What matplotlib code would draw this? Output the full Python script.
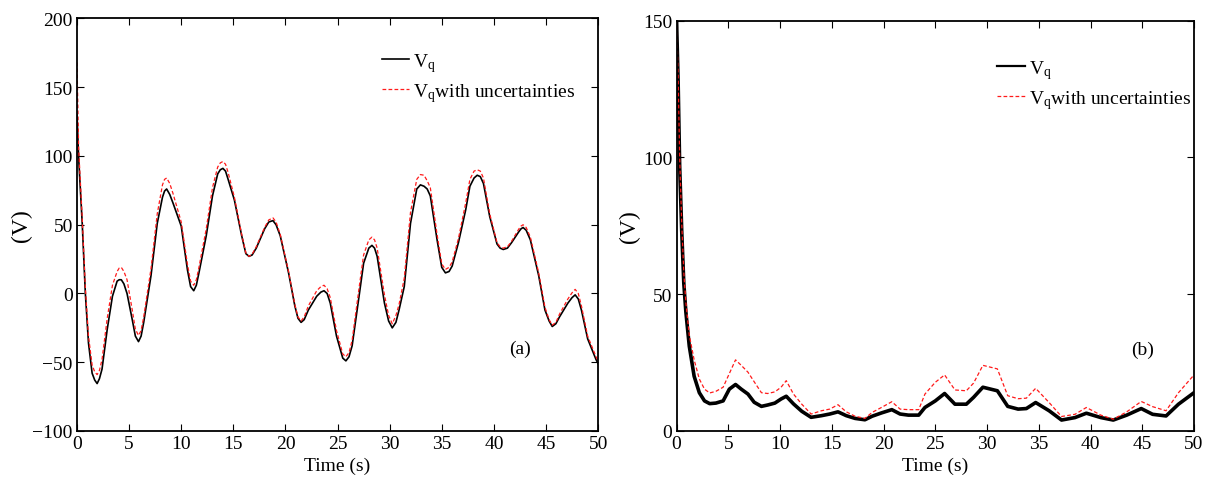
import matplotlib
matplotlib.use("Agg")
import matplotlib.pyplot as plt

# ---------------- data ----------------
# (a) Vq over time
t_a = [0, 0.16, 0.5, 0.8, 1.1, 1.45, 1.7, 1.93, 2.15, 2.4, 2.9, 3.4, 3.85,
       4.05, 4.25, 4.5, 4.8, 5.3, 5.6, 5.9, 6.15, 6.4, 7.1, 7.7, 8.2, 8.4,
       8.6, 8.9, 9.2, 10.0, 10.6, 10.9, 11.2, 11.45, 11.7, 12.4, 13.0, 13.5,
       13.75, 14.0, 14.25, 14.5, 15.1, 15.8, 16.2, 16.5, 16.8, 17.2, 18.0,
       18.4, 18.8, 19.1, 19.5, 20.3, 20.9, 21.2, 21.5, 21.8, 22.2, 23.0, 23.4,
       23.7, 24.0, 24.3, 24.9, 25.5, 25.8, 26.1, 26.4, 27.1, 27.5, 28.0, 28.3,
       28.55, 28.8, 29.5, 29.9, 30.25, 30.6, 30.9, 31.4, 32.0, 32.6, 32.95,
       33.3, 33.6, 33.9, 34.55, 35.0, 35.35, 35.7, 36.0, 36.6, 37.3, 37.7,
       38.1, 38.4, 38.7, 39.0, 39.6, 40.3, 40.6, 40.9, 41.3, 41.7, 42.4, 42.6,
       42.8, 43.1, 43.5, 44.3, 44.9, 45.3, 45.6, 45.95, 46.3, 47.1, 47.5,
       47.8, 48.1, 48.4, 49.0, 49.8, 50.0]
vq_a = [130, 98, 51, 0, -36, -58, -63, -65.5, -62, -55, -26, -2, 9,
        10, 10, 7, 0, -19, -31, -35, -31, -21, 13, 51, 70, 74.5,
        76, 72, 66, 49, 17, 5, 2, 6, 15, 42, 71, 87,
        90, 91, 89, 83, 68, 42, 29, 27, 28, 33, 47,
        52, 53, 50, 42, 15, -9, -18, -21, -19, -12, -2, 1,
        2, 0, -7, -31, -47, -49, -46, -38, 0, 22, 33, 35,
        33, 27, -7, -20, -25, -21, -12, 5, 51, 76, 79,
        78, 76, 71, 39, 19, 15, 16, 20, 37, 61, 78,
        84, 86, 85, 80, 56, 36, 33, 32, 33, 37, 45, 47,
        48, 46, 39, 13, -12, -20, -24, -22, -17, -7, -3,
        -1, -4, -12, -33, -48, -51]
vq_a_unc = [168, 105, 55, 4, -31, -52, -57, -59, -56, -48, -18, 6, 16,
            18.5, 19, 16, 10, -12, -26, -30.5, -27, -17, 18, 58, 79, 83,
            84, 80, 73, 52, 21, 9, 6, 10, 19, 47, 77, 92,
            95, 96, 94, 88, 70, 43, 29.5, 27, 28.5, 34, 48,
            53.5, 55, 52, 43, 16, -8, -17, -20, -17, -9, 2, 5,
            6, 3.5, -3, -27, -44, -46, -43, -34, 6, 28, 39, 41,
            39, 33, -1, -16, -22, -16, -8, 11, 59, 83, 86.5,
            86, 82, 77, 43, 21.5, 17.5, 19, 23, 40, 66, 83,
            89, 90, 89, 84, 58, 37, 34, 33, 34, 38, 47, 49,
            50, 48, 41, 15, -10, -19, -23, -21, -15, -4, 0.5,
            3, 0, -9, -31, -46, -49]

# (b) Vq over time
t_b = [0, 0.15, 0.3, 0.5, 0.7, 0.9, 1.23, 1.7, 2.2, 2.7, 3.2, 3.8, 4.5, 5.1,
       5.7, 6.25, 6.9, 7.5, 8.2, 8.8, 9.5, 10.1, 10.6, 11.3, 12.1, 13.0, 14.0,
       14.8, 15.6, 16.4, 17.25, 18.2, 18.9, 19.8, 20.8, 21.6, 22.4, 23.4, 24.0,
       25.0, 25.9, 26.9, 28.0, 28.7, 29.6, 31.0, 32.0, 33.0, 33.8, 34.7, 36.0,
       37.2, 38.5, 39.6, 41.0, 42.2, 43.5, 44.9, 46.0, 47.3, 48.5, 50.0]
vq_b = [150, 128, 97, 73, 54, 43.5, 31, 20, 14, 11, 10, 10.2, 11, 15.3,
        17, 15.3, 13.5, 10.5, 9, 9.5, 10.2, 11.7, 12.7, 9.9, 7.2, 5, 5.6,
        6.2, 7, 5.6, 4.6, 4.1, 5.4, 6.6, 7.8, 6.2, 5.8, 5.8, 8.6,
        11, 13.7, 9.8, 9.8, 12.3, 16, 14.7, 9, 8, 8.2, 10.4, 7.4,
        4, 4.9, 6.5, 4.9, 4, 5.8, 8.2, 6.1, 5.5, 9.8, 14]
vq_b_unc = [150, 130, 100, 76, 58, 47, 35, 26, 19, 15.3, 13.9, 14.5, 16, 21,
            26, 24, 21.5, 18, 14, 13.7, 14.3, 16, 18.4, 13.5, 9.8, 6.2, 7.4,
            8, 9.6, 7, 5.4, 4.6, 6.8, 8.6, 10.7, 8, 7.8, 7.8, 13.5,
            17.8, 20.5, 15, 14.7, 17.5, 24, 22.7, 12.9, 11.8, 12, 15.6, 10.4,
            5.3, 6.1, 8.6, 5.8, 4.3, 7, 10.8, 8.9, 7.4, 14, 20.5]

x_ticks = [0, 5, 10, 15, 20, 25, 30, 35, 40, 45, 50]

# ---------------- style ----------------
plt.rcParams.update({
    "font.family": "Liberation Serif",
    "mathtext.fontset": "custom",
    "mathtext.rm": "Liberation Serif",
    "mathtext.it": "Liberation Serif:italic",
    "font.size": 14,
    "axes.linewidth": 1.3,
    "xtick.direction": "in",
    "ytick.direction": "in",
    "xtick.top": True,
    "ytick.right": True,
    "xtick.major.size": 5,
    "ytick.major.size": 5,
    "xtick.major.pad": 3,
    "ytick.major.pad": 3,
    "lines.solid_joinstyle": "round",
})

fig = plt.figure(figsize=(12.09, 4.85), dpi=100)
ax_a = fig.add_axes([0.0637, 0.1093, 0.431, 0.8505])
ax_b = fig.add_axes([0.5596, 0.1093, 0.428, 0.846])

dash = (0, (3, 1.8))

# (a)
ax_a.plot(t_a, vq_a, color="black", lw=1.2, label=r"$\mathrm{V_q}$")
ax_a.plot(t_a, vq_a_unc, color="#ff1a1a", lw=0.9, linestyle=dash,
          label=r"$\mathrm{V_q}$with uncertainties")
ax_a.set_xlim(0, 50)
ax_a.set_ylim(-100, 200)
ax_a.set_xticks(x_ticks)
ax_a.set_yticks([-100, -50, 0, 50, 100, 150, 200])
ax_a.set_yticklabels(["\u2212100", "\u221250", "0", "50", "100", "150", "200"])
ax_a.set_xlabel("Time (s)", labelpad=3)
ax_a.set_ylabel("(V)", labelpad=0, fontsize=17)
ax_a.text(42.5, -40, "(a)", ha="center", va="center", fontsize=14)
ax_a.legend(loc="upper left", bbox_to_anchor=(0.57, 0.94), frameon=False,
            handlelength=1.4, handletextpad=0.2, labelspacing=0.35,
            borderaxespad=0, fontsize=14)

# (b)
ax_b.plot(t_b, vq_b, color="black", lw=2.6, label=r"$\mathrm{V_q}$")
ax_b.plot(t_b, vq_b_unc, color="#ff1a1a", lw=0.9, linestyle=dash,
          label=r"$\mathrm{V_q}$with uncertainties")
ax_b.set_xlim(0, 50)
ax_b.set_ylim(0, 150)
ax_b.set_xticks(x_ticks)
ax_b.set_yticks([0, 50, 100, 150])
ax_b.set_xlabel("Time (s)", labelpad=3)
ax_b.set_ylabel("(V)", labelpad=2, fontsize=17)
ax_b.text(45, 30, "(b)", ha="center", va="center", fontsize=14)
leg = ax_b.legend(loc="upper left", bbox_to_anchor=(0.605, 0.928), frameon=False,
                  handlelength=1.4, handletextpad=0.2, labelspacing=0.35,
                  borderaxespad=0, fontsize=14)
leg.get_lines()[0].set_linewidth(1.6)

fig.savefig("out.png", dpi=100)
